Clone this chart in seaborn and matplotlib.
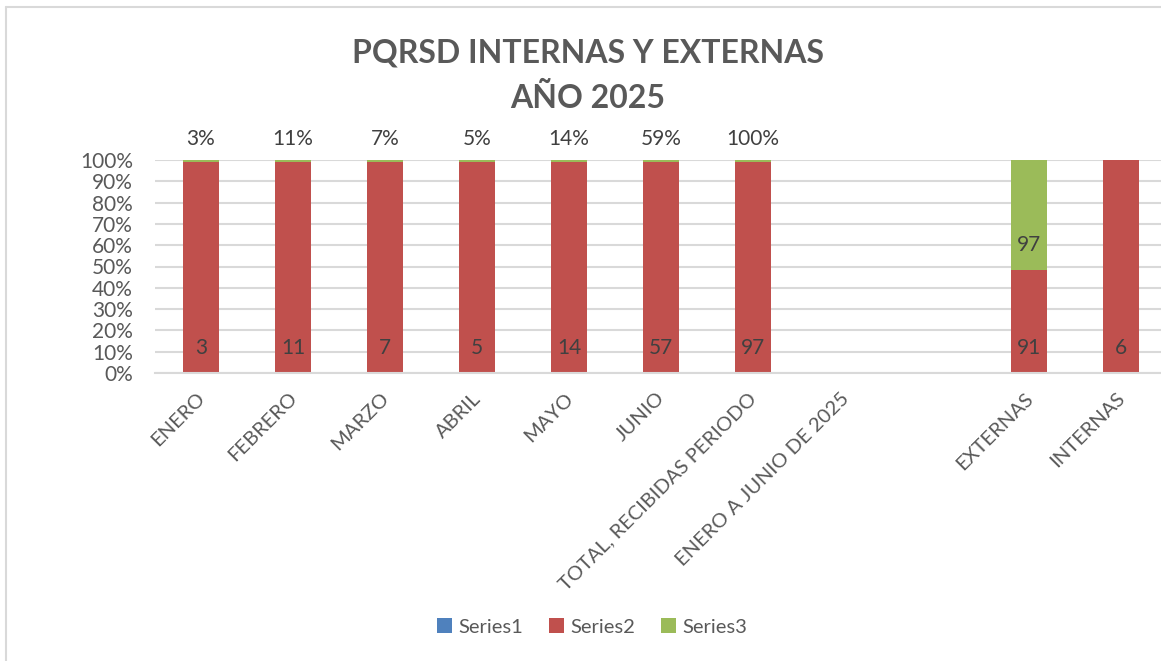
import numpy as np
import pandas as pd
import matplotlib
matplotlib.use("Agg")
import matplotlib.pyplot as plt
import seaborn as sns
from matplotlib.lines import Line2D
from matplotlib.patches import Patch
from matplotlib.transforms import ScaledTranslation

# data
categories = ["ENERO", "FEBRERO", "MARZO", "ABRIL", "MAYO", "JUNIO",
              "TOTAL, RECIBIDAS PERIODO", "ENERO A JUNIO DE 2025", "",
              "EXTERNAS", "INTERNAS"]
series1 = [0, 0, 0, 0, 0, 0, 0, 0, 0, 0, 0]
series2 = [3, 11, 7, 5, 14, 57, 97, 0, 0, 91, 6]
series3 = [0.03, 0.11, 0.07, 0.05, 0.14, 0.59, 1.00, 0, 0, 97, 0]

sns.set_style("white")
plt.rcParams["font.family"] = ["Lato", "DejaVu Sans"]

gray = "#595959"
colors = {"Series1": "#4F81BD", "Series2": "#C0504D", "Series3": "#9BBB59"}

df = pd.DataFrame({"cat": categories, "s1": series1, "s2": series2, "s3": series3})
total = (df["s1"] + df["s2"] + df["s3"]).replace(0, np.nan)
df["c1"] = (df["s1"] / total).fillna(0)
df["c2"] = ((df["s1"] + df["s2"]) / total).fillna(0)
df["c3"] = ((df["s1"] + df["s2"] + df["s3"]) / total).fillna(0)

fig = plt.figure(figsize=(11.61, 6.61), dpi=100)
W, H = 1161, 661
ax = fig.add_axes([155 / W, (H - 373) / H, (1167 - 155) / W, 213 / H])

# stacked by overlaying cumulative shares, top layer first
for col, name in [("c3", "Series3"), ("c2", "Series2"), ("c1", "Series1")]:
    sns.barplot(data=df, x="cat", y=col, order=categories, color=colors[name],
                width=0.4, saturation=1, ax=ax, edgecolor="none", linewidth=0)

ax.set_xlim(-0.5, len(categories) - 0.5)
ax.set_ylim(0, 1)
ax.set_yticks(np.arange(0, 1.01, 0.1))
ax.set_yticklabels([f"{int(round(t * 100))}%" for t in np.arange(0, 1.01, 0.1)],
                   fontsize=15, color=gray)
ax.yaxis.grid(True, color="#D9D9D9", linewidth=1.5)
ax.set_axisbelow(True)
for s in ["top", "right", "left"]:
    ax.spines[s].set_visible(False)
ax.spines["bottom"].set_color("#D9D9D9")
ax.spines["bottom"].set_linewidth(1.5)
ax.tick_params(axis="y", length=0, pad=16)
ax.tick_params(axis="x", length=0, pad=4)
ax.set_xlabel("")
ax.set_ylabel("")

ax.set_xticks(range(len(categories)))
ax.set_xticklabels(categories, rotation=45, ha="right", va="center",
                   rotation_mode="anchor", fontsize=14.5, color=gray)
offset = ScaledTranslation(1 / 100, -17 / 100, fig.dpi_scale_trans)
for lab in ax.get_xticklabels():
    lab.set_transform(lab.get_transform() + offset)

# data labels
for i, row in df.iterrows():
    if row["s2"] > 0:
        ax.text(i, row["c1"] + 0.117, f"{row['s2']:g}", ha="center", va="center",
                fontsize=15, color="#404040")
    if 0 < row["s3"] <= 1:
        ax.text(i, 1.10, f"{row['s3']:.0%}", ha="center", va="center",
                fontsize=15, color="#404040", clip_on=False)
    elif row["s3"] > 1:
        ax.text(i, row["c2"] + 0.117, f"{row['s3']:g}", ha="center", va="center",
                fontsize=15, color="#404040")

fig.text(588 / W, 1 - 53 / H, "PQRSD INTERNAS Y EXTERNAS", ha="center", va="center",
         fontsize=23, fontweight="bold", color=gray)
fig.text(588 / W, 1 - 98 / H, "AÑO 2025", ha="center", va="center",
         fontsize=23, fontweight="bold", color=gray)

handles = [Patch(facecolor=colors[n], edgecolor="none", label=n) for n in colors]
fig.legend(handles=handles, loc="center", bbox_to_anchor=(592 / W, 1 - 627 / H),
           ncol=3, frameon=False, fontsize=14.5, labelcolor=gray,
           handlelength=0.75, handleheight=0.75, handletextpad=0.3, columnspacing=1.3)

# chart border (top and left visible in the reference)
fig.add_artist(Line2D([6 / W, 6 / W], [0, 1 - 7 / H], color="#D9D9D9", linewidth=1.5,
                      transform=fig.transFigure))
fig.add_artist(Line2D([6 / W, 1], [1 - 7 / H, 1 - 7 / H], color="#D9D9D9", linewidth=1.5,
                      transform=fig.transFigure))

fig.savefig("out.png", dpi=100, facecolor="white")
